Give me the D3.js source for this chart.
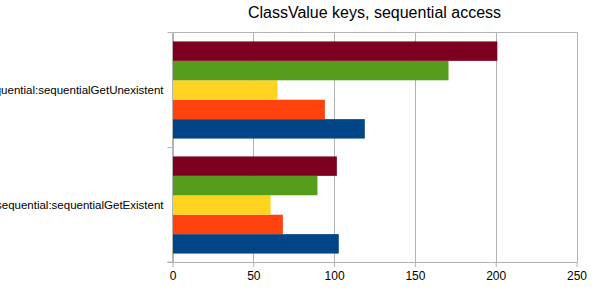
<!DOCTYPE html>
<meta charset="utf-8">
<script src="https://d3js.org/d3.v7.min.js"></script>
<style>
  body { margin: 0; background: #fff; }
  svg { display: block; font-family: "Liberation Sans", Arial, sans-serif; }
</style>
<div id="chart"></div>
<script>
    const categories = ["sequential:sequentialGetUnexistent", "sequential:sequentialGetExistent"];
    // series listed bottom-to-top within each group (LibreOffice order)
    const seriesNames = ["s1", "s2", "s3", "s4", "s5"];
    const seriesColors = ["#004586", "#ff420e", "#ffd320", "#579d1c", "#7e0021"];
    const values = [
        [119, 102.9],   // blue
        [94.3, 68.3],   // orange
        [65, 60.7],     // yellow
        [170.8, 89.7],  // green
        [201, 101.7]    // maroon
    ];
    const xTicks = [0, 50, 100, 150, 200, 250];

    const width = 593, height = 294;
    const marginTop = 32.5, marginRight = 16, marginBottom = 32, marginLeft = 172.5;

    const svg = d3.select("#chart").append("svg")
        .attr("width", width)
        .attr("height", height);

    const x = d3.scaleLinear()
        .domain([0, 250])
        .range([marginLeft, width - marginRight - 0.5]);

    const y = d3.scaleBand()
        .domain(categories)
        .range([marginTop, height - marginBottom + 0.5])
        .paddingInner(0)
        .paddingOuter(0);

    // bars stacked top-to-bottom: maroon first, blue last
    const inner = d3.scaleBand()
        .domain(d3.range(seriesNames.length).reverse())
        .range([0, y.bandwidth()])
        .paddingOuter(0.46);

    // gridlines
    svg.append("g")
        .selectAll("line")
        .data(xTicks)
        .join("line")
        .attr("x1", d => Math.round(x(d)) + 0.5)
        .attr("x2", d => Math.round(x(d)) + 0.5)
        .attr("y1", marginTop)
        .attr("y2", height - marginBottom)
        .attr("stroke", "#b3b3b3");

    svg.append("line")
        .attr("x1", marginLeft).attr("x2", x(250) + 1)
        .attr("y1", marginTop).attr("y2", marginTop)
        .attr("stroke", "#b3b3b3");

    // bars
    const groups = svg.append("g")
        .selectAll("g")
        .data(categories)
        .join("g")
        .attr("transform", d => `translate(0,${y(d)})`);

    groups.selectAll("rect")
        .data((c, ci) => values.map((v, si) => ({ si, v: v[ci] })))
        .join("rect")
        .attr("x", x(0))
        .attr("y", d => inner(d.si))
        .attr("width", d => x(d.v) - x(0))
        .attr("height", inner.bandwidth())
        .attr("fill", d => seriesColors[d.si]);

    // bottom axis
    svg.append("g")
        .attr("transform", `translate(0,${height - marginBottom})`)
        .call(d3.axisBottom(x).tickValues(xTicks).tickSize(5).tickPadding(4))
        .call(g => g.select(".domain").attr("d", `M${marginLeft - 5},0.5H${x(250) + 1}`).attr("stroke", "#b3b3b3"))
        .call(g => g.selectAll(".tick line").attr("stroke", "#b3b3b3"))
        .call(g => g.selectAll(".tick text").attr("font-size", 12).attr("fill", "#000")
            .attr("font-family", "Liberation Sans, Arial, sans-serif"));

    // left axis
    svg.append("g")
        .attr("transform", `translate(${marginLeft},0)`)
        .call(g => g.append("line")
            .attr("x1", 0).attr("x2", 0)
            .attr("y1", marginTop).attr("y2", height - marginBottom)
            .attr("stroke", "#b3b3b3"))
        .call(g => g.selectAll(".bt")
            .data([...categories.map(c => y(c)), height - marginBottom])
            .join("line")
            .attr("x1", -5).attr("x2", 0)
            .attr("y1", d => d).attr("y2", d => d)
            .attr("stroke", "#b3b3b3"))
        .call(g => g.selectAll("text")
            .data(categories)
            .join("text")
            .attr("x", -9)
            .attr("y", d => y(d) + y.bandwidth() / 2)
            .attr("dy", "0.35em")
            .attr("text-anchor", "end")
            .attr("font-size", 11.5)
            .attr("fill", "#000")
            .text(d => d));

    // title
    svg.append("text")
        .attr("x", (x(0) + x(250)) / 2)
        .attr("y", 18)
        .attr("text-anchor", "middle")
        .attr("font-size", 16)
        .attr("fill", "#000")
        .text("ClassValue keys, sequential access");
</script>
